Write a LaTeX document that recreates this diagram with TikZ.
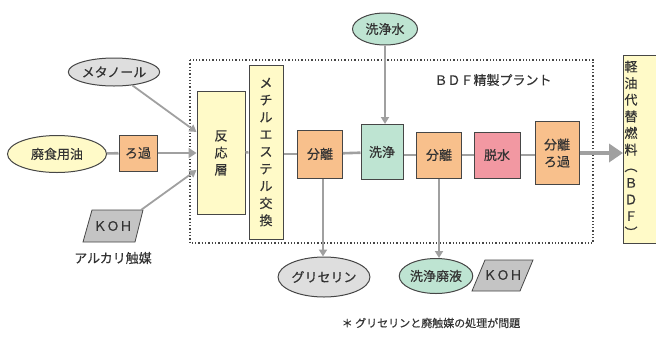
\documentclass[tikz,border=0pt]{standalone}
\usepackage{fontspec}
\setmainfont{Noto Sans CJK JP}[FakeBold=0.4]
\usetikzlibrary{shapes.geometric,arrows.meta,calc}
\definecolor{yelF}{RGB}{255,250,200}
\definecolor{oraF}{RGB}{248,192,140}
\definecolor{greF}{RGB}{190,228,210}
\definecolor{pinF}{RGB}{242,152,162}
\definecolor{graE}{RGB}{222,222,222}
\definecolor{kohF}{RGB}{196,196,196}
\definecolor{lnC}{RGB}{160,160,160}
\definecolor{bdC}{RGB}{70,70,70}
\tikzset{
  txt/.style={font=\fontsize{13}{17}\selectfont, text=black!80},
  ell/.style={ellipse, draw=bdC, line width=1pt, inner sep=0pt, txt},
  boxn/.style={rectangle, draw=bdC, line width=1pt, inner sep=0pt, txt, align=center},
  flow/.style={draw=lnC, line width=2.6pt},
  flowarr/.style={flow, -{Triangle[length=8pt,width=10pt]}},
  inarr/.style={draw=lnC, line width=1.8pt, -{Triangle[length=7pt,width=8pt]}},
  bigarr/.style={draw=lnC, line width=4pt, -{Triangle[length=14pt,width=18pt]}},
}
\begin{document}
\begin{tikzpicture}[x=1pt,y=-1pt]
\useasboundingbox (0,0) rectangle (656,338);
% plant frame
\draw[bdC, line width=1.3pt, dotted] (190,60) rectangle (593,243);
\node[txt] (plant) at (493,80) {ＢＤＦ精製プラント};
% nodes
\node[ell, fill=graE, minimum width=82, minimum height=28] (meth) at (114,72) {メタノール};
\node[ell, fill=yelF, minimum width=99, minimum height=37] (oil) at (57,154) {廃食用油};
\node[boxn, fill=oraF, minimum width=38, minimum height=36] (rok) at (138,153) {ろ過};
\draw[bdC, line width=0.8pt, fill=kohF] (83,242) -- (135,242) -- (143,210) -- (92,210) -- cycle;
\node[txt] (koh1) at (113,226) {ＫＯＨ};
\coordinate (koh1tr) at (141,210);
\node[txt] (alk) at (113,258) {アルカリ触媒};
\node[boxn, fill=yelF, minimum width=48, minimum height=123] (han) at (221,153) {反\\応\\層};
\node[boxn, fill=yelF, minimum width=34, minimum height=174, font=\fontsize{13}{17.2}\selectfont] (mec) at (266,152) {メ\\チ\\ル\\エ\\ス\\テ\\ル\\交\\換};
\node[boxn, fill=oraF, minimum width=45, minimum height=48] (bu1) at (320,154) {分離};
\node[boxn, fill=greF, minimum width=42, minimum height=55] (sen) at (382,152) {洗浄};
\node[ell, fill=greF, minimum width=65, minimum height=32] (sui) at (385,29) {洗浄水};
\node[ell, fill=graE, minimum width=82, minimum height=40] (gly) at (324,277) {グリセリン};
\node[boxn, fill=oraF, minimum width=45, minimum height=46] (bu2) at (439,155) {分離};
\node[boxn, fill=pinF, minimum width=46, minimum height=46] (das) at (497,155) {脱水};
\node[boxn, fill=oraF, minimum width=44, minimum height=63] (bro) at (557,153) {分離\\ろ過};
\node[ell, fill=greF, minimum width=63, minimum height=35] (hai) at (436,276) {洗浄廃液};
\draw[bdC, line width=0.8pt, fill=kohF] (472,291) -- (520,291) -- (533,260) -- (485,260) -- cycle;
\node[txt] (koh2) at (503,275) {ＫＯＨ};
% BDF product box
\node[boxn, fill=yelF, minimum width=36, minimum height=188, anchor=north west] (bdf) at (623,55) {};
\node[txt, anchor=north, align=center, font=\fontsize{13}{16.6}\selectfont] (bdft) at (631,57) {軽\\油\\代\\替\\燃\\料\\︵\\Ｂ\\Ｄ\\Ｆ\\︶};
% footnote
\node[font=\fontsize{11}{13}\selectfont, text=black!80] (note) at (431,323) {＊ グリセリンと廃触媒の処理が問題};
% connectors
\coordinate (hinA) at ($(han.west)+(0,-21)$);
\coordinate (hinB) at ($(han.west)+(0,17)$);
\coordinate (g0) at ($(bu1.south)+(3,0)$);
\draw[flow] (oil) -- (rok);
\draw[flowarr] (rok) -- (han.west);
\draw[inarr] (meth) -- (hinA);
\draw[inarr] (koh1tr) -- (hinB);
\draw[flow] (han) -- (mec);
\draw[flow] (mec.east |- bu1.west) -- (bu1.west);
\draw[flow] (bu1) -- (sen);
\draw[flow] (sen.east |- bu2.west) -- (bu2.west);
\draw[flow] (bu2) -- (das);
\draw[flow] (das) -- (bro.west |- das.east);
\draw[bigarr] (bro.east) -- (bdf.west |- bro.east);
\draw[inarr] (sui.south) -- (sui.south |- sen.north);
\draw[inarr] (g0) -- (g0 |- gly.north);
\draw[inarr] (bu2.south) -- (bu2.south |- hai.north);
\end{tikzpicture}
\end{document}
